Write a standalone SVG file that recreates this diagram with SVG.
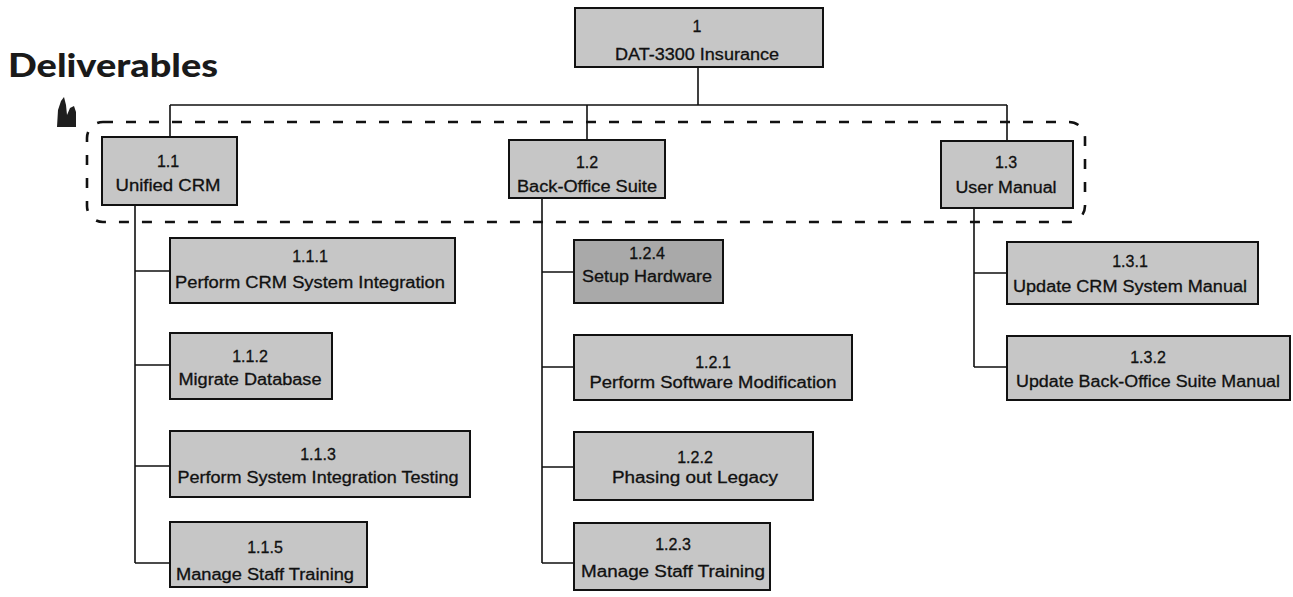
<svg xmlns="http://www.w3.org/2000/svg" width="1293" height="597" viewBox="0 0 1293 597">
<style>
.box{fill:#c6c6c6;stroke:#111;stroke-width:2}
.dark{fill:#a9a9a9}
.t{font-family:"Liberation Sans",Arial,sans-serif;font-size:16px;fill:#111;stroke:#111;stroke-width:0.3;text-anchor:middle}
.c{fill:none;stroke:#111;stroke-width:1.6}
.dash{fill:none;stroke:#111;stroke-width:2.6;stroke-dasharray:10 13}
.title{font-family:Lato,"Liberation Sans",sans-serif;font-weight:900;font-size:32px;fill:#1a1a1a}
</style>
<rect width="1293" height="597" fill="#ffffff"/>
<text class="title" x="8" y="77" textLength="210" lengthAdjust="spacingAndGlyphs">Deliverables</text>
<path d="M57 127 L58 110 L61 101 L64 97 L66 105 L67 115 L70 108 L74 106 L76 112 L76 127 Z" fill="#1e1e1e"/>
<rect class="dash" x="87" y="122" width="998" height="100" rx="16"/>
<g id="connectors">
<path class="c" d="M698 67 V105 M170 105 H1007 M170 105 V137 M587 105 V140 M1007 105 V141"/>
<path class="c" d="M135 205 V563 M135 271 H170 M135 365 H170 M135 466 H170 M135 563 H170"/>
<path class="c" d="M542 198 V563 M542 272 H574 M542 367 H574 M542 467 H574 M542 563 H574"/>
<path class="c" d="M974 208 V367 M974 273 H1007 M974 367 H1007"/>
</g>
<g id="n1"><rect class="box" x="575" y="8" width="248" height="59"/><text class="t" x="697" y="32">1</text><text class="t" x="697" y="60" textLength="164" lengthAdjust="spacingAndGlyphs">DAT-3300 Insurance</text></g>
<g id="n1_1"><rect class="box" x="102" y="137" width="135" height="68"/><text class="t" x="168" y="167">1.1</text><text class="t" x="168" y="191" textLength="105" lengthAdjust="spacingAndGlyphs">Unified CRM</text></g>
<g id="n1_2"><rect class="box" x="509" y="140" width="156" height="58"/><text class="t" x="587" y="168">1.2</text><text class="t" x="587" y="192" textLength="140" lengthAdjust="spacingAndGlyphs">Back-Office Suite</text></g>
<g id="n1_3"><rect class="box" x="941" y="141" width="132" height="67"/><text class="t" x="1006" y="168">1.3</text><text class="t" x="1006" y="193" textLength="101" lengthAdjust="spacingAndGlyphs">User Manual</text></g>
<g id="n1_1_1"><rect class="box" x="170" y="238" width="285" height="65"/><text class="t" x="310" y="262">1.1.1</text><text class="t" x="310" y="288" textLength="270" lengthAdjust="spacingAndGlyphs">Perform CRM System Integration</text></g>
<g id="n1_1_2"><rect class="box" x="170" y="333" width="162" height="66"/><text class="t" x="250" y="362">1.1.2</text><text class="t" x="250" y="385" textLength="143" lengthAdjust="spacingAndGlyphs">Migrate Database</text></g>
<g id="n1_1_3"><rect class="box" x="170" y="431" width="300" height="66"/><text class="t" x="318" y="460">1.1.3</text><text class="t" x="318" y="483" textLength="281" lengthAdjust="spacingAndGlyphs">Perform System Integration Testing</text></g>
<g id="n1_1_5"><rect class="box" x="170" y="522" width="197" height="65"/><text class="t" x="265" y="553">1.1.5</text><text class="t" x="265" y="580" textLength="178" lengthAdjust="spacingAndGlyphs">Manage Staff Training</text></g>
<g id="n1_2_4"><rect class="box dark" x="574" y="240" width="149" height="63"/><text class="t" x="647" y="259">1.2.4</text><text class="t" x="647" y="282" textLength="130" lengthAdjust="spacingAndGlyphs">Setup Hardware</text></g>
<g id="n1_2_1"><rect class="box" x="574" y="335" width="278" height="65"/><text class="t" x="713" y="368">1.2.1</text><text class="t" x="713" y="388" textLength="247" lengthAdjust="spacingAndGlyphs">Perform Software Modification</text></g>
<g id="n1_2_2"><rect class="box" x="574" y="432" width="239" height="68"/><text class="t" x="695" y="463">1.2.2</text><text class="t" x="695" y="483" textLength="166" lengthAdjust="spacingAndGlyphs">Phasing out Legacy</text></g>
<g id="n1_2_3"><rect class="box" x="574" y="523" width="196" height="67"/><text class="t" x="673" y="550">1.2.3</text><text class="t" x="673" y="577" textLength="184" lengthAdjust="spacingAndGlyphs">Manage Staff Training</text></g>
<g id="n1_3_1"><rect class="box" x="1007" y="242" width="251" height="62"/><text class="t" x="1130" y="267">1.3.1</text><text class="t" x="1130" y="292" textLength="234" lengthAdjust="spacingAndGlyphs">Update CRM System Manual</text></g>
<g id="n1_3_2"><rect class="box" x="1007" y="336" width="283" height="64"/><text class="t" x="1148" y="363">1.3.2</text><text class="t" x="1148" y="387" textLength="264" lengthAdjust="spacingAndGlyphs">Update Back-Office Suite Manual</text></g>
</svg>
